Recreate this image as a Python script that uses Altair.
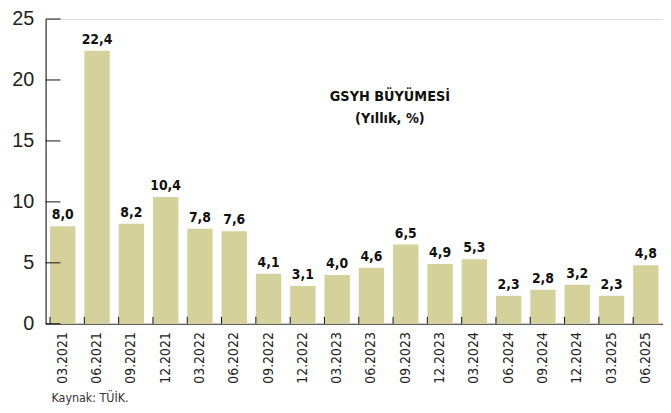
import altair as alt
import pandas as pd

quarters = ["03.2021", "06.2021", "09.2021", "12.2021", "03.2022", "06.2022",
            "09.2022", "12.2022", "03.2023", "06.2023", "09.2023", "12.2023",
            "03.2024", "06.2024", "09.2024", "12.2024", "03.2025", "06.2025"]
growth = [8.0, 22.4, 8.2, 10.4, 7.8, 7.6, 4.1, 3.1, 4.0, 4.6, 6.5, 4.9,
          5.3, 2.3, 2.8, 3.2, 2.3, 4.8]
y_ticks = [0, 5, 10, 15, 20, 25]
title_lines = ["GSYH BÜYÜMESİ", "(Yıllık, %)"]
source_text = "Kaynak: TÜİK."

W, H = 624, 308
NARROW = "Liberation Sans Narrow, DejaVu Sans Condensed, sans-serif"

df = pd.DataFrame({"q": quarters, "v": growth})
df["lbl"] = [f"{v:.1f}".replace(".", ",") for v in growth]

xs = alt.Scale(paddingInner=0.26, paddingOuter=0.13)
ys = alt.Scale(domain=[0, 25], nice=False, zero=True)

base = alt.Chart(df)

bars = base.mark_bar(color="#d4d19b").encode(
    x=alt.X("q:N", sort=None, scale=xs, title=None,
            axis=alt.Axis(labelAngle=270, labelAlign="right", labelBaseline="middle",
                          labelFont=NARROW, labelFontSize=14, labelColor="#222",
                          labelPadding=8, ticks=False, domainColor="#333",
                          domainWidth=1)),
    y=alt.Y("v:Q", scale=ys, title=None,
            axis=alt.Axis(values=y_ticks, ticks=False, labelFont="Liberation Sans, sans-serif",
                          labelFontSize=20, labelColor="#222", labelPadding=12,
                          domainColor="#111", domainWidth=1, grid=False)),
)

labels = base.mark_text(baseline="bottom", dy=-4, font=NARROW, fontSize=14,
                        fontWeight="bold", color="#111").encode(
    x=alt.X("q:N", sort=None, scale=xs),
    y=alt.Y("v:Q", scale=ys),
    text="lbl:N",
)

xticks = base.mark_rule(color="#111", strokeWidth=1).encode(
    x=alt.X("q:N", sort=None, scale=xs, bandPosition=0),
    y=alt.value(H - 7),
    y2=alt.value(H),
)

yt = alt.Chart(pd.DataFrame({"t": y_ticks})).mark_rule(color="#111", strokeWidth=1).encode(
    y=alt.Y("t:Q", scale=ys),
    x=alt.value(0),
    x2=alt.value(15),
)

title1 = alt.Chart(pd.DataFrame({"t": [title_lines[0]]})).mark_text(
    font=NARROW, fontSize=14.5, fontWeight="bold", color="#111", align="center",
    baseline="middle").encode(text="t:N", x=alt.value(348), y=alt.value(79))
title2 = alt.Chart(pd.DataFrame({"t": [title_lines[1]]})).mark_text(
    font=NARROW, fontSize=14.5, fontWeight="bold", color="#111", align="center",
    baseline="middle").encode(text="t:N", x=alt.value(348), y=alt.value(101))

source = alt.Chart(pd.DataFrame({"t": [source_text]})).mark_text(
    font=NARROW, fontSize=12.5, color="#333", align="left",
    baseline="middle").encode(text="t:N", x=alt.value(6), y=alt.value(383))

chart = alt.layer(bars, labels, xticks, yt, title1, title2, source).properties(
    width=W, height=H,
    autosize=alt.AutoSizeParams(type="none"),
    padding={"left": 38, "top": 9, "right": 0, "bottom": 86},
).configure_view(stroke=None).configure(background="white")

chart.save("out.html", embed_options={"renderer": "svg", "actions": False})
